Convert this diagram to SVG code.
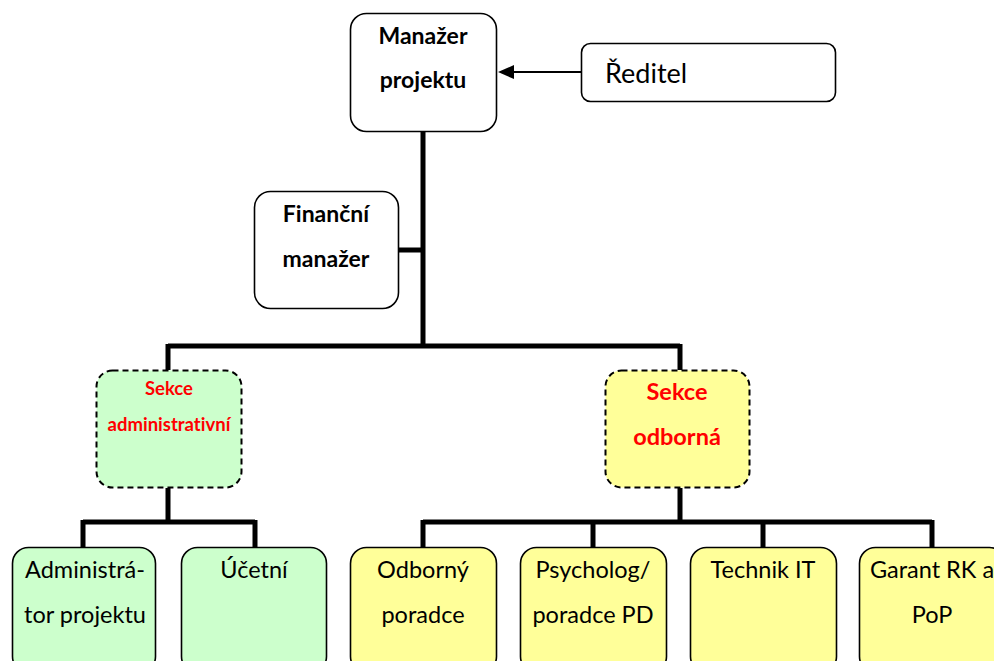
<svg xmlns="http://www.w3.org/2000/svg" width="994" height="661" viewBox="0 0 994 661">
<style>
.box{stroke:#000;stroke-width:1.6;fill:#fff}
.g{fill:#ccffcc}
.y{fill:#ffff99}
.dash{stroke-dasharray:6 4;stroke-width:2}
.t{font-family:Lato,"Open Sans","Liberation Sans",sans-serif;text-anchor:middle;fill:#000;font-variant-ligatures:none}
.b{font-weight:bold}
.r{fill:#ff0000;font-weight:bold}
.ln{stroke:#000;stroke-width:5;fill:none}
</style>
<g id="connectors">
<path class="ln" d="M423,131 V346 M398,250 H423 M168,346 H680 M168,344 V370 M680,344 V370 M168,488 V522 M83,522 H255 M83,520 V547 M255,520 V547 M680,488 V522 M423,522 H932 M423,520 V547 M593,520 V547 M763,520 V547 M932,520 V547"/>
<path d="M581,72 H510" stroke="#000" stroke-width="2" fill="none"/>
<path d="M514,65 L498,72 L514,79 z" fill="#000"/>
</g>
<g id="manazer">
<rect class="box" x="350.5" y="13.5" width="146" height="118" rx="16"/>
<text class="t b" x="423" y="44" font-size="23">Manažer</text>
<text class="t b" x="423" y="88" font-size="23">projektu</text>
</g>
<g id="reditel">
<rect class="box" x="581.5" y="43.5" width="254" height="58" rx="9"/>
<text class="t" x="605" y="83" font-size="27" style="text-anchor:start">Ředitel</text>
</g>
<g id="financni">
<rect class="box" x="254.5" y="191.5" width="144" height="117" rx="16"/>
<text class="t b" x="326" y="222" font-size="23">Finanční</text>
<text class="t b" x="326" y="267" font-size="23">manažer</text>
</g>
<g id="sekce-admin">
<rect class="box g dash" x="96.5" y="370.5" width="145" height="117" rx="16"/>
<text class="t r" x="169" y="395" font-size="18.5">Sekce</text>
<text class="t r" x="169" y="431" font-size="18.5">administrativní</text>
</g>
<g id="sekce-odborna">
<rect class="box y dash" x="605.5" y="370.5" width="144" height="117" rx="16"/>
<text class="t r" x="677" y="400" font-size="23.5">Sekce</text>
<text class="t r" x="677" y="445" font-size="23.5">odborná</text>
</g>
<g id="administrator">
<rect class="box g" x="12.5" y="547.5" width="143" height="125" rx="16"/>
<text class="t" x="85" y="578" font-size="23.5">Administrá-</text>
<text class="t" x="85" y="623" font-size="23.5">tor projektu</text>
</g>
<g id="ucetni">
<rect class="box g" x="181.5" y="547.5" width="145" height="125" rx="16"/>
<text class="t" x="254" y="578" font-size="23.5">Účetní</text>
</g>
<g id="odborny">
<rect class="box y" x="350.5" y="547.5" width="146" height="125" rx="16"/>
<text class="t" x="423" y="578" font-size="23.5">Odborný</text>
<text class="t" x="423" y="623" font-size="23.5">poradce</text>
</g>
<g id="psycholog">
<rect class="box y" x="520.5" y="547.5" width="146" height="125" rx="16"/>
<text class="t" x="593" y="578" font-size="23.5">Psycholog/</text>
<text class="t" x="593" y="623" font-size="23.5">poradce PD</text>
</g>
<g id="technik">
<rect class="box y" x="690.5" y="547.5" width="146" height="125" rx="16"/>
<text class="t" x="763" y="578" font-size="23.5">Technik IT</text>
</g>
<g id="garant">
<rect class="box y" x="859.5" y="547.5" width="146" height="125" rx="16"/>
<text class="t" x="932" y="578" font-size="23.5">Garant RK a</text>
<text class="t" x="932" y="623" font-size="23.5">PoP</text>
</g>
</svg>
